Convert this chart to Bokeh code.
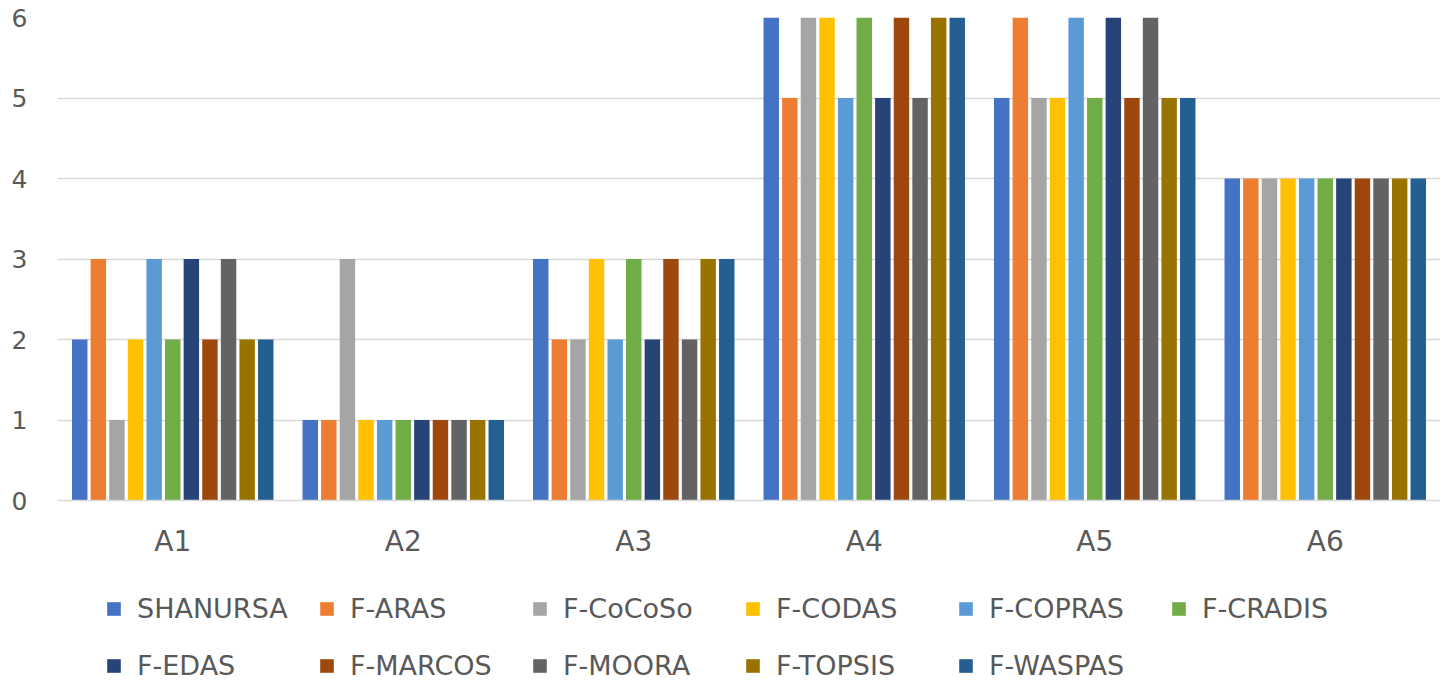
from bokeh.plotting import figure
from bokeh.layouts import column
from bokeh.models import ColumnDataSource, Legend, LegendItem, FactorRange, Range1d, FixedTicker
from bokeh.transform import dodge
from bokeh.embed import file_html
from bokeh.resources import INLINE

categories = ["A1", "A2", "A3", "A4", "A5", "A6"]
series_names = ["SHANURSA", "F-ARAS", "F-CoCoSo", "F-CODAS", "F-COPRAS", "F-CRADIS",
                "F-EDAS", "F-MARCOS", "F-MOORA", "F-TOPSIS", "F-WASPAS"]
shanursa = [2, 1, 3, 6, 5, 4]
f_aras = [3, 1, 2, 5, 6, 4]
f_cocoso = [1, 3, 2, 6, 5, 4]
f_codas = [2, 1, 3, 6, 5, 4]
f_copras = [3, 1, 2, 5, 6, 4]
f_cradis = [2, 1, 3, 6, 5, 4]
f_edas = [3, 1, 2, 5, 6, 4]
f_marcos = [2, 1, 3, 6, 5, 4]
f_moora = [3, 1, 2, 5, 6, 4]
f_topsis = [2, 1, 3, 6, 5, 4]
f_waspas = [2, 1, 3, 6, 5, 4]
y_ticks = [0, 1, 2, 3, 4, 5, 6]

colors = ["#4472C4", "#ED7D31", "#A5A5A5", "#FFC000", "#5B9BD5", "#70AD47",
          "#264478", "#9E480E", "#636363", "#997300", "#255E91"]

series_values = [shanursa, f_aras, f_cocoso, f_codas, f_copras, f_cradis,
                 f_edas, f_marcos, f_moora, f_topsis, f_waspas]

data = {"cat": categories}
for name, vals in zip(series_names, series_values):
    data[name] = vals
source = ColumnDataSource(data)

FONT = "DejaVu Sans"
TXT = "#595959"

p = figure(width=1440, height=568, x_range=FactorRange(*categories),
           y_range=Range1d(0, 6), output_backend="svg", toolbar_location=None,
           min_border_left=57, min_border_right=0, min_border_top=17, min_border_bottom=68)

pitch = 0.0807
bw = 0.067
n = len(series_names)
for i, (name, col) in enumerate(zip(series_names, colors)):
    off = (i - (n - 1) / 2) * pitch
    p.vbar(x=dodge("cat", off, range=p.x_range), top=name, width=bw,
           source=source, fill_color=col, line_color=None)

p.outline_line_color = None
p.xgrid.grid_line_color = None
p.ygrid.grid_line_color = "#D9D9D9"
p.ygrid.grid_line_width = 1.5

p.yaxis.ticker = FixedTicker(ticks=y_ticks)
p.yaxis.axis_line_color = None
p.yaxis.major_tick_line_color = None
p.yaxis.minor_tick_line_color = None
p.yaxis.major_tick_out = 0
p.yaxis.major_label_text_font = FONT
p.yaxis.major_label_text_font_size = "25px"
p.yaxis.major_label_text_color = TXT
p.yaxis.major_label_standoff = 30

p.xaxis.axis_line_color = "#D9D9D9"
p.xaxis.axis_line_width = 1.5
p.xaxis.major_tick_line_color = None
p.xaxis.minor_tick_line_color = None
p.xaxis.major_tick_out = 0
p.xaxis.major_label_text_font = FONT
p.xaxis.major_label_text_font_size = "28px"
p.xaxis.major_label_text_color = TXT
p.xaxis.major_label_standoff = 24

# legend in its own strip below the chart; its proxy bars have zero width so
# only the legend swatches show
pl = figure(width=1440, height=112, x_range=FactorRange(*categories),
            y_range=Range1d(-2, -1), output_backend="svg", toolbar_location=None,
            x_axis_type=None, y_axis_type=None,
            min_border_left=0, min_border_right=0, min_border_top=0, min_border_bottom=0)
pl.outline_line_color = None
pl.grid.grid_line_color = None
items = []
for i, (name, col) in enumerate(zip(series_names, colors)):
    r = pl.vbar(x="cat", top=name, width=0, source=source,
                fill_color=col, line_color=None)
    items.append(LegendItem(label=name, renderers=[r]))

legend = Legend(items=items, ncols=6, orientation="horizontal", location=(48, -2))
legend.label_text_font = FONT
legend.label_text_font_size = "27px"
legend.label_text_color = TXT
legend.glyph_width = 17
legend.glyph_height = 17
legend.label_standoff = 15
legend.label_width = 158
legend.label_height = 34
legend.spacing = 23
legend.margin = 0
legend.padding = 0
legend.border_line_color = None
legend.background_fill_alpha = 0
pl.add_layout(legend)

layout = column(p, pl, spacing=0)
open("out.html", "w").write(file_html(layout, INLINE))
